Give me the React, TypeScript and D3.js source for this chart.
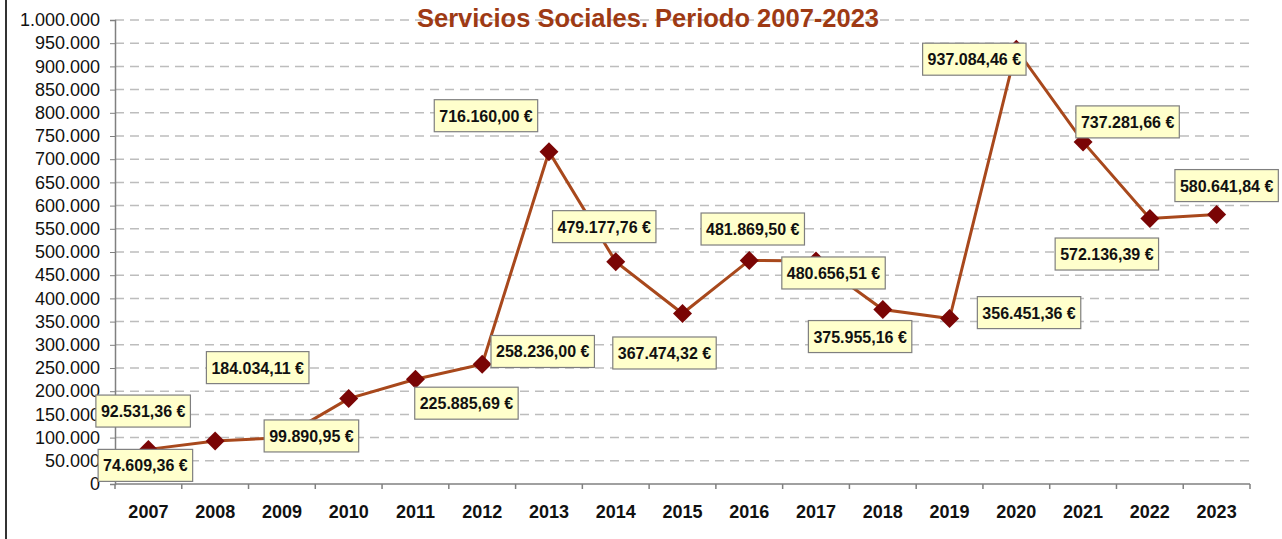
import React, { useEffect, useRef } from "react";
import * as d3 from "d3";

const years = ["2007","2008","2009","2010","2011","2012","2013","2014","2015","2016","2017","2018","2019","2020","2021","2022","2023"];
const values = [74609.36, 92531.36, 99890.95, 184034.11, 225885.69, 258236.0, 716160.0, 479177.76, 367474.32, 481869.5, 480656.51, 375955.16, 356451.36, 937084.46, 737281.66, 572136.39, 580641.84];
const yTicks = [0, 50000, 100000, 150000, 200000, 250000, 300000, 350000, 400000, 450000, 500000, 550000, 600000, 650000, 700000, 750000, 800000, 850000, 900000, 950000, 1000000];
const titleText = "Servicios Sociales. Periodo 2007-2023";
// label offsets (px) from each point, layout only
const labelDx = [-3, -72, 29.5, -91, 51, 60.5, -63, -11.5, -18, 3.5, 17.5, -22.7, 79.5, -42, 44.5, -43, 10];
const labelDy = [16, -30, -1.7, -31, 24, -12.7, -36, -35, 39.5, -31.4, 12, 27, -6, 10, -20, 35.5, -29];

const W = 1282, H = 539;
const M = { left: 115, right: 1250, top: 20, bottom: 484 };

export default function App() {
  const ref = useRef<SVGSVGElement>(null);
  useEffect(() => {
    const svg = d3.select(ref.current);
    svg.selectAll("*").remove();
    const loc = d3.formatLocale({ decimal: ",", thousands: ".", grouping: [3], currency: ["", " €"] });
    const fmtTick = loc.format(",.0f");
    const fmtVal = (v: number) => loc.format(",.2f")(v) + " €";

    const x = d3.scaleBand().domain(years).range([M.left, M.right]).padding(0);
    const y = d3.scaleLinear().domain([0, 1000000]).range([M.bottom, M.top]);
    const cx = (i: number) => (x(years[i]) as number) + x.bandwidth() / 2;

    svg.append("rect").attr("x", 0).attr("y", 0).attr("width", W).attr("height", H).attr("fill", "#fff");
    svg.append("line").attr("x1", 6).attr("x2", 6).attr("y1", 0).attr("y2", H).attr("stroke", "#333").attr("stroke-width", 2);

    // gridlines
    svg.append("g").selectAll("line").data(yTicks.filter(t => t > 0)).join("line")
      .attr("x1", M.left).attr("x2", M.right)
      .attr("y1", d => y(d)).attr("y2", d => y(d))
      .attr("stroke", "#bdbdbd").attr("stroke-width", 1.5).attr("stroke-dasharray", "9,6");

    // y axis
    const ya = svg.append("g").attr("transform", `translate(${M.left},0)`)
      .call(d3.axisLeft(y).tickValues(yTicks).tickFormat(d => fmtTick(d as number)).tickSize(5).tickPadding(10));
    ya.select(".domain").attr("stroke", "#808080").attr("stroke-width", 1.5);
    ya.selectAll(".tick line").attr("stroke", "#808080");
    ya.selectAll(".tick text").attr("font-family", "Liberation Sans, Arial, sans-serif").attr("font-size", 18).attr("fill", "#111");

    // x axis
    const xa = svg.append("g").attr("transform", `translate(0,${M.bottom})`)
      .call(d3.axisBottom(x).tickSize(0).tickPadding(21));
    xa.select(".domain").remove();
    xa.selectAll(".tick text").attr("font-family", "Liberation Sans, Arial, sans-serif").attr("font-size", 18).attr("font-weight", "bold").attr("fill", "#111");
    svg.append("line").attr("x1", M.left).attr("x2", M.right).attr("y1", M.bottom).attr("y2", M.bottom).attr("stroke", "#808080").attr("stroke-width", 1.5);
    const bounds = years.map(yr => x(yr) as number).concat([M.right]);
    svg.append("g").selectAll("line").data(bounds).join("line")
      .attr("x1", d => d).attr("x2", d => d).attr("y1", M.bottom).attr("y2", M.bottom + 5)
      .attr("stroke", "#808080").attr("stroke-width", 1.5);

    // title
    svg.append("text").attr("x", 648).attr("y", 27).attr("text-anchor", "middle")
      .attr("font-family", "Liberation Sans, Arial, sans-serif").attr("font-size", 25.5).attr("font-weight", "bold")
      .attr("fill", "#9E3A14").text(titleText);

    // line
    const line = d3.line<number>().x((_, i) => cx(i)).y(d => y(d));
    svg.append("path").datum(values).attr("d", line).attr("fill", "none").attr("stroke", "#A8481C").attr("stroke-width", 3);

    // markers
    const sym = d3.symbol().type(d3.symbolSquare).size(180);
    svg.append("g").selectAll("path").data(values).join("path")
      .attr("d", sym() as string)
      .attr("transform", (d, i) => `translate(${cx(i)},${y(d)}) rotate(45)`)
      .attr("fill", "#7A0505");

    // labels
    const lg = svg.append("g");
    values.forEach((v, i) => {
      const lx = cx(i) + labelDx[i];
      const ly = y(v) + labelDy[i];
      const g = lg.append("g");
      const rect = g.append("rect");
      const t = g.append("text").attr("x", lx).attr("y", ly + 6).attr("text-anchor", "middle")
        .attr("font-family", "Liberation Sans, Arial, sans-serif").attr("font-size", 16).attr("font-weight", "bold")
        .attr("fill", "#111").text(fmtVal(v));
      const tw = (t.node() as SVGTextElement).getComputedTextLength();
      const bw = tw + 10, bh = 32;
      rect.attr("x", lx - bw / 2).attr("y", ly - bh / 2).attr("width", bw).attr("height", bh)
        .attr("fill", "#FFFFCC").attr("stroke", "#7f7f7f").attr("stroke-width", 1.2);
    });
  }, []);
  return (
    <svg ref={ref} width={W} height={H} style={{ position: "absolute", left: 0, top: 0, display: "block" }} />
  );
}
